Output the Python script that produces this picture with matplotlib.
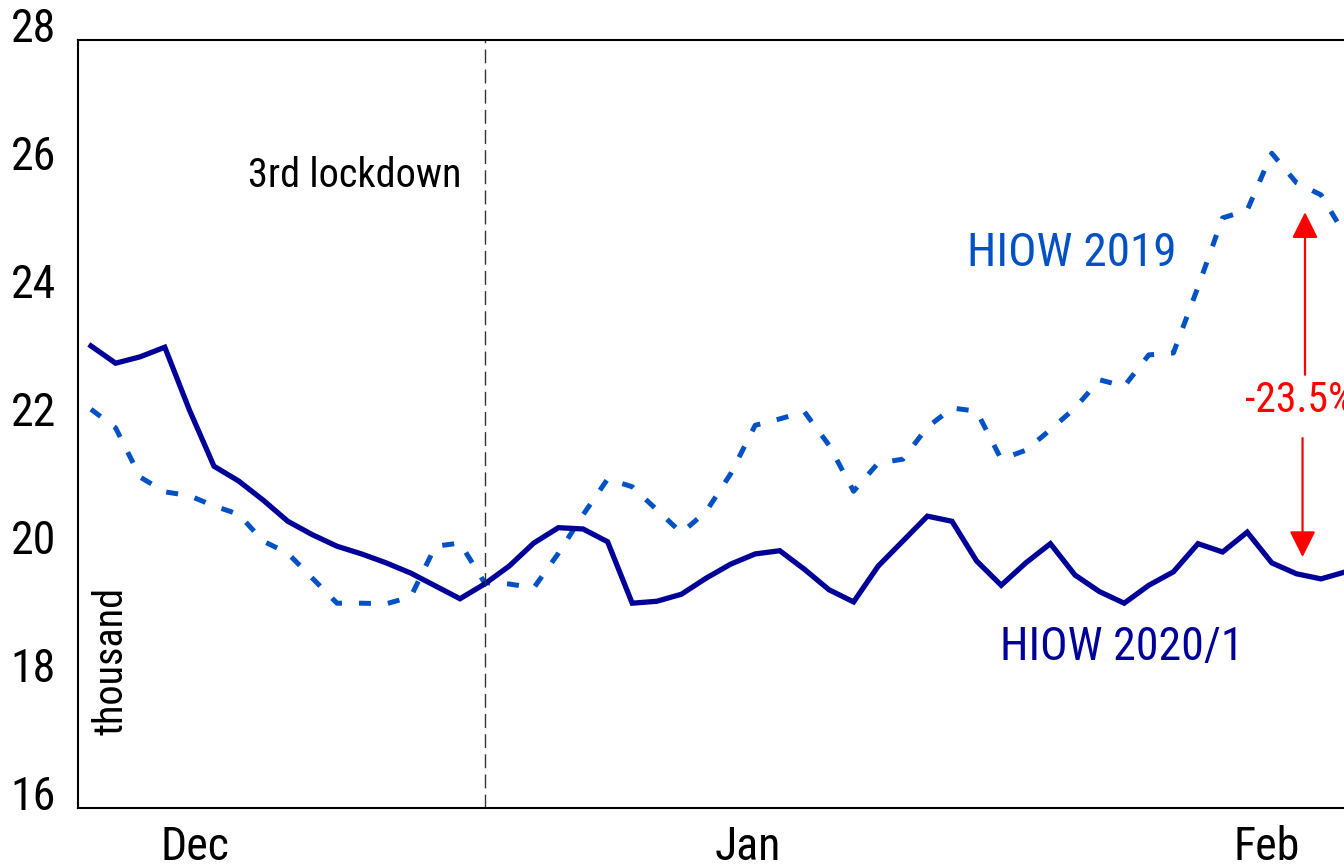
import matplotlib
matplotlib.use("Agg")
import matplotlib.pyplot as plt
from matplotlib import font_manager
from matplotlib.transforms import ScaledTranslation

# the original uses an Arial Narrow look; take the first condensed sans we have
names = set(f.name for f in font_manager.fontManager.ttflist)
narrow = 'Liberation Sans'
for cand in ['Liberation Sans Narrow', 'Arial Narrow', 'Roboto Condensed', 'Archivo Narrow']:
    if cand in names:
        narrow = cand
        break
plt.rcParams['font.family'] = [narrow, 'DejaVu Sans']

# thousand, one point roughly every 1.4 days
hiow_2020 = [23.22, 22.95, 23.05, 23.20, 22.22, 21.34, 21.11, 20.81, 20.48, 20.27,
             20.09, 19.97, 19.83, 19.67, 19.47, 19.27, 19.50, 19.78, 20.14, 20.38,
             20.36, 20.16, 19.20, 19.23, 19.34, 19.59, 19.81, 19.97, 20.02, 19.73,
             19.41, 19.22, 19.78, 20.17, 20.56, 20.48, 19.86, 19.48, 19.83, 20.13,
             19.64, 19.38, 19.20, 19.48, 19.69, 20.13, 20.00, 20.31, 19.83, 19.66,
             19.58, 19.69]
hiow_2019 = [22.23, 21.94, 21.17, 20.94, 20.88, 20.72, 20.59, 20.17, 19.98, 19.59,
             19.20, 19.20, 19.19, 19.30, 20.09, 20.14, 19.52, 19.50, 19.44, 19.98,
             20.58, 21.14, 21.02, 20.66, 20.30, 20.63, 21.22, 21.98, 22.08, 22.19,
             21.67, 20.95, 21.39, 21.45, 21.95, 22.25, 22.20, 21.45, 21.59, 21.91,
             22.25, 22.69, 22.59, 23.08, 23.11, 24.14, 25.22, 25.34, 26.23, 25.77,
             25.58, 24.94]
month_pos = [4.23, 26.7, 47.8]
month_labels = ['Dec', 'Jan', 'Feb']
lockdown_idx = 16
gap_idx = 49.35
gap_top = 25.31
gap_bottom = 19.92
gap_label = '-23.5%'

x = list(range(len(hiow_2020)))

fig = plt.figure(figsize=(13.44, 8.66), dpi=100)
# axes runs past the right edge of the picture, as in the original
ax = fig.add_axes([78 / 1344, 58 / 866, 1316.8 / 1344, 768 / 866])

ax.plot(x, hiow_2019, color='#0052C4', lw=3.6, dashes=(2.4, 3.4))
ax.plot(x, hiow_2020, color='#000099', lw=3.8, solid_joinstyle='miter')

ax.axvline(lockdown_idx, color='#333333', lw=1, dashes=(10, 4.5))

ax.set_xlim(-0.528, 53)
ax.set_ylim(16, 28)
ax.set_yticks([16, 18, 20, 22, 24, 26, 28])
ax.set_xticks(month_pos)
ax.set_xticklabels(month_labels)
ax.tick_params(axis='both', length=0, labelsize=33)
ax.tick_params(axis='y', pad=16)
ax.tick_params(axis='x', pad=12)
# labels in the original sit a little above their gridline values
for lab in ax.get_yticklabels():
    lab.set_transform(lab.get_transform() + ScaledTranslation(0, 0.15, fig.dpi_scale_trans))
for sp in ax.spines.values():
    sp.set_linewidth(1.5)

ax.text(15.08, 25.89, '3rd lockdown', fontsize=29, ha='right', va='center')
ax.text(0.81, 18.30, 'thousand', fontsize=29, rotation=90, ha='center', va='center')
ax.text(35.6, 24.67, 'HIOW 2019', fontsize=34, color='#0052C4', ha='left', va='center')
ax.text(36.95, 18.52, 'HIOW 2020/1', fontsize=33, color='#000099', ha='left', va='center')

ax.text(gap_idx - 0.2, 22.375, gap_label, fontsize=30, color='red', ha='center', va='center')
arrow = dict(arrowstyle='-|>', color='red', lw=1.6, mutation_scale=40, shrinkA=0, shrinkB=0)
ax.annotate('', xy=(gap_idx, gap_top), xytext=(gap_idx, 22.77), arrowprops=arrow)
ax.annotate('', xy=(gap_idx - 0.1, gap_bottom), xytext=(gap_idx - 0.1, 21.78), arrowprops=arrow)

fig.savefig('out.png', dpi=100)
